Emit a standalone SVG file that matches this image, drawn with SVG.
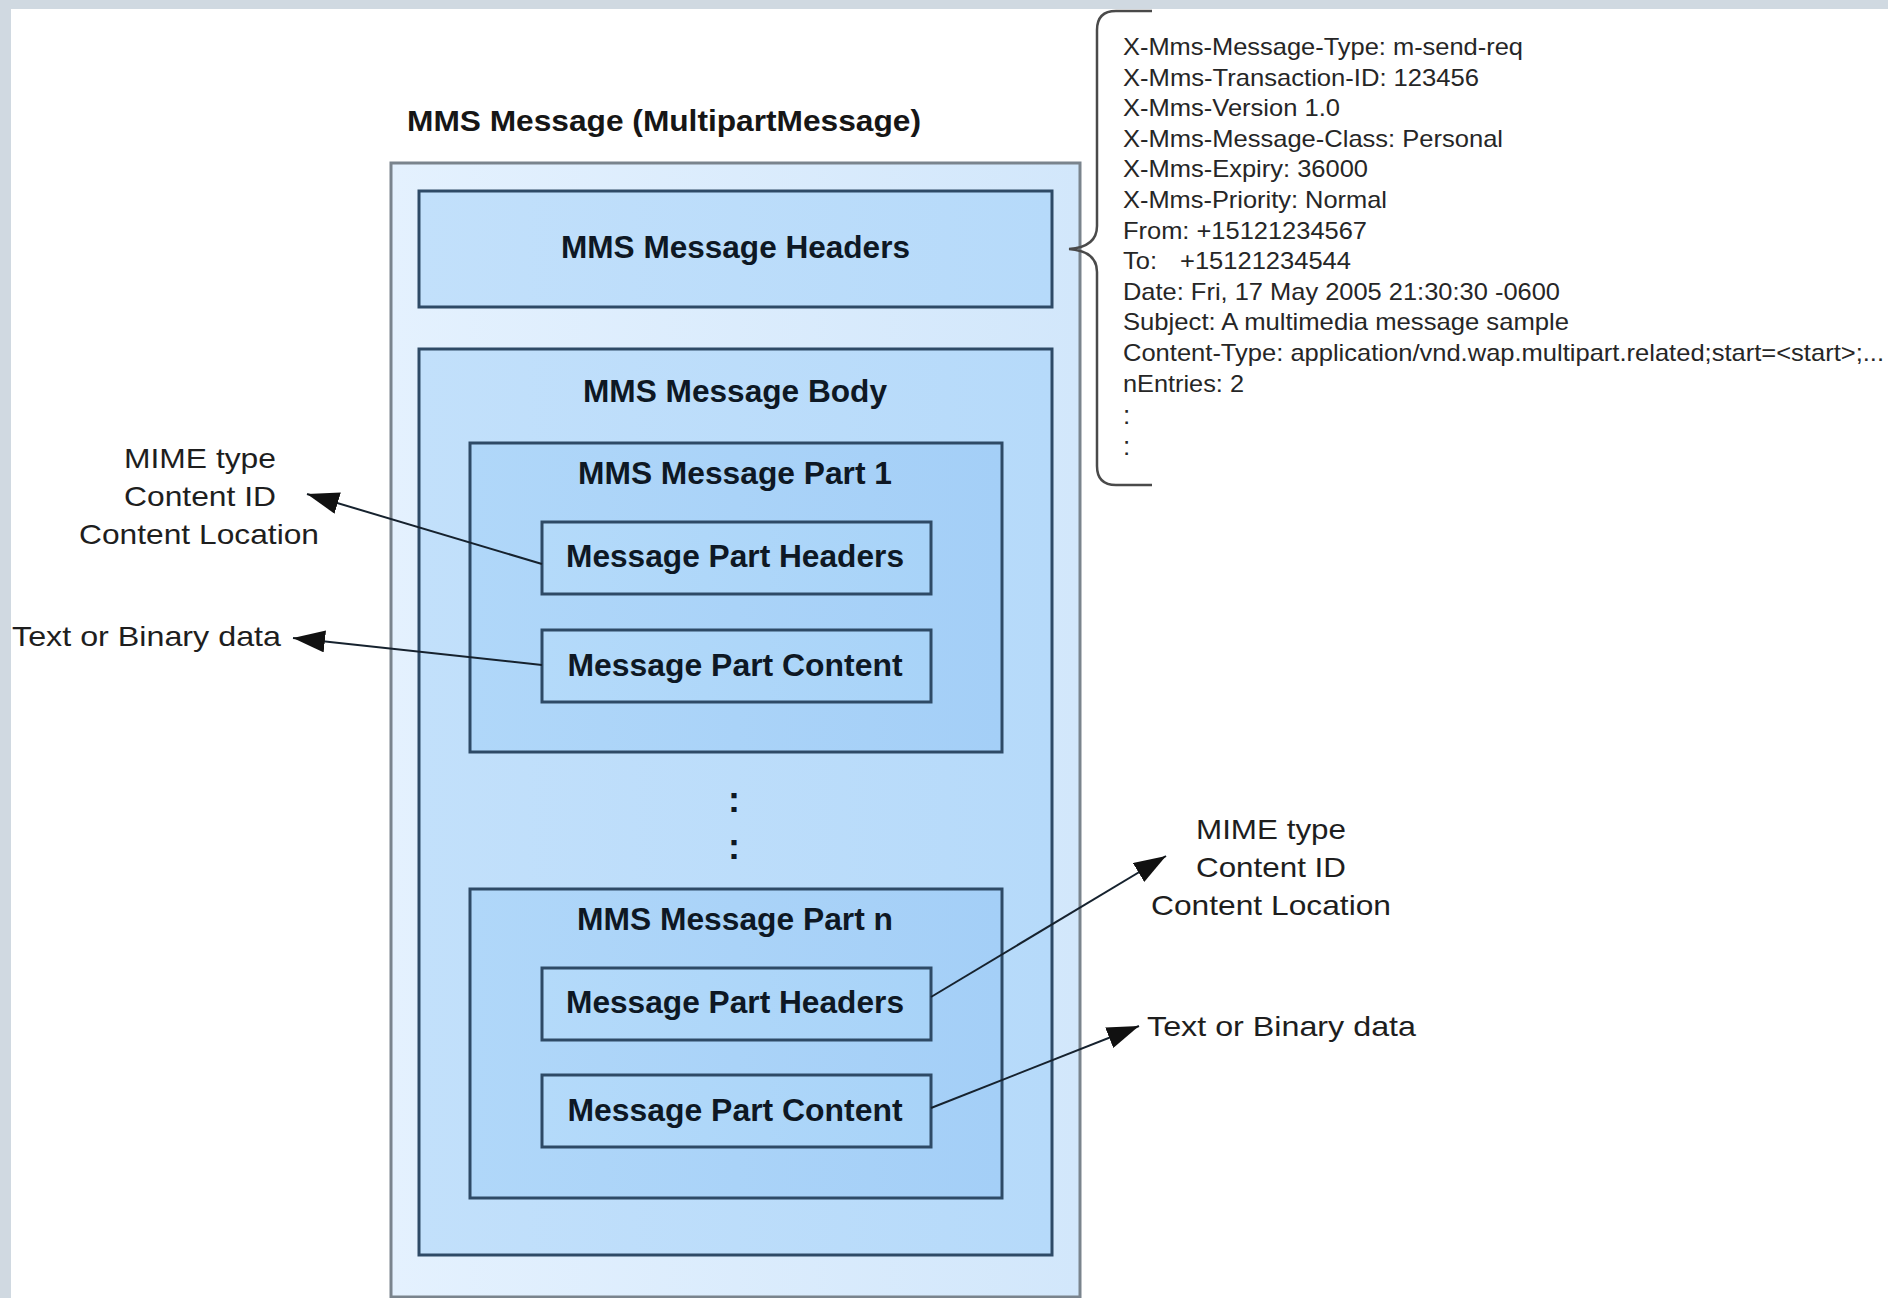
<svg xmlns="http://www.w3.org/2000/svg" width="1888" height="1298" viewBox="0 0 1888 1298">
  <defs>
    <linearGradient id="gOuter" x1="0" y1="0" x2="1" y2="0">
      <stop offset="0" stop-color="#E4F1FE"/>
      <stop offset="1" stop-color="#D2E7FB"/>
    </linearGradient>
    <linearGradient id="gMid" x1="0" y1="0" x2="1" y2="0">
      <stop offset="0" stop-color="#C2E0FB"/>
      <stop offset="1" stop-color="#B6DAFA"/>
    </linearGradient>
    <linearGradient id="gPart" x1="0" y1="0" x2="1" y2="0">
      <stop offset="0" stop-color="#B0D7F9"/>
      <stop offset="1" stop-color="#A4CFF7"/>
    </linearGradient>
    <linearGradient id="gLeaf" x1="0" y1="0" x2="1" y2="0">
      <stop offset="0" stop-color="#B4DAFA"/>
      <stop offset="1" stop-color="#A8D3F8"/>
    </linearGradient>
    <marker id="arrow" markerUnits="userSpaceOnUse" markerWidth="32" markerHeight="22" refX="32" refY="11" orient="auto">
      <path d="M0,0 L32,11 L0,22 z" fill="#111"/>
    </marker>
  </defs>
  <style>
    .box { stroke: #2E4A66; stroke-width: 3; }
    .outer { fill: url(#gOuter); stroke: #7A848D; stroke-width: 3; }
    .mid { fill: url(#gMid); }
    .part { fill: url(#gPart); }
    .leaf { fill: url(#gLeaf); }
    .bold { font-family: "Liberation Sans", Arial, sans-serif; font-weight: bold; font-size: 31px; fill: #0E1824; text-anchor: middle; }
    .title { font-family: "Liberation Sans", Arial, sans-serif; font-weight: bold; font-size: 29px; fill: #161616; }
    .label { font-family: "Liberation Sans", Arial, sans-serif; font-size: 28px; fill: #1E1E1E; }
    .hdr { font-family: "Liberation Sans", Arial, sans-serif; font-size: 24px; fill: #262626; }
    .conn { fill: none; stroke: #16222E; stroke-width: 2; marker-end: url(#arrow); }
    .brace { fill: none; stroke: #4A4A4A; stroke-width: 2.5; }
  </style>

  <!-- page background with frame strips -->
  <rect x="0" y="0" width="1888" height="1298" fill="#D0D9E1"/>
  <rect x="11" y="9" width="1877" height="1289" fill="#FFFFFF"/>

  <!-- container -->
  <g id="mms-message">
    <text class="title" x="407" y="131" textLength="514" lengthAdjust="spacingAndGlyphs">MMS Message (MultipartMessage)</text>
    <rect class="outer" x="391" y="163" width="689" height="1134"/>
  </g>

  <g id="mms-headers">
    <rect class="box mid" x="419" y="191" width="633" height="116"/>
    <text class="bold" x="735.5" y="258" textLength="349" lengthAdjust="spacingAndGlyphs">MMS Message Headers</text>
  </g>

  <g id="mms-body">
    <rect class="box mid" x="419" y="349" width="633" height="906"/>
    <text class="bold" x="735" y="402" textLength="304" lengthAdjust="spacingAndGlyphs">MMS Message Body</text>
  </g>

  <g id="part-1">
    <rect class="box part" x="470" y="443" width="532" height="309"/>
    <text class="bold" x="735" y="484" textLength="314" lengthAdjust="spacingAndGlyphs">MMS Message Part 1</text>
  </g>
  <g id="part-1-headers">
    <rect class="box leaf" x="542" y="522" width="389" height="72"/>
    <text class="bold" x="735" y="567" textLength="338" lengthAdjust="spacingAndGlyphs">Message Part Headers</text>
  </g>
  <g id="part-1-content">
    <rect class="box leaf" x="542" y="630" width="389" height="72"/>
    <text class="bold" x="735" y="676" textLength="335" lengthAdjust="spacingAndGlyphs">Message Part Content</text>
  </g>

  <g id="ellipsis">
    <text class="bold" x="734" y="812" style="font-size:36px">:</text>
    <text class="bold" x="734" y="859" style="font-size:36px">:</text>
  </g>

  <g id="part-n">
    <rect class="box part" x="470" y="889" width="532" height="309"/>
    <text class="bold" x="735" y="930" textLength="316" lengthAdjust="spacingAndGlyphs">MMS Message Part n</text>
  </g>
  <g id="part-n-headers">
    <rect class="box leaf" x="542" y="968" width="389" height="72"/>
    <text class="bold" x="735" y="1013" textLength="338" lengthAdjust="spacingAndGlyphs">Message Part Headers</text>
  </g>
  <g id="part-n-content">
    <rect class="box leaf" x="542" y="1075" width="389" height="72"/>
    <text class="bold" x="735" y="1121" textLength="335" lengthAdjust="spacingAndGlyphs">Message Part Content</text>
  </g>

  <!-- annotation labels -->
  <g id="label-part1-headers">
    <text class="label" x="200" y="468" text-anchor="middle" textLength="152" lengthAdjust="spacingAndGlyphs">MIME type</text>
    <text class="label" x="200" y="506" text-anchor="middle" textLength="152" lengthAdjust="spacingAndGlyphs">Content ID</text>
    <text class="label" x="199" y="544" text-anchor="middle" textLength="240" lengthAdjust="spacingAndGlyphs">Content Location</text>
  </g>
  <g id="label-part1-content">
    <text class="label" x="12" y="646" textLength="269" lengthAdjust="spacingAndGlyphs">Text or Binary data</text>
  </g>
  <g id="label-partn-headers">
    <text class="label" x="1271" y="839" text-anchor="middle" textLength="150" lengthAdjust="spacingAndGlyphs">MIME type</text>
    <text class="label" x="1271" y="877" text-anchor="middle" textLength="150" lengthAdjust="spacingAndGlyphs">Content ID</text>
    <text class="label" x="1271" y="915" text-anchor="middle" textLength="240" lengthAdjust="spacingAndGlyphs">Content Location</text>
  </g>
  <g id="label-partn-content">
    <text class="label" x="1147" y="1036" textLength="269" lengthAdjust="spacingAndGlyphs">Text or Binary data</text>
  </g>

  <!-- header field listing with brace -->
  <g id="header-fields">
    <path class="brace" d="M1152,11 L1116,11 Q1097,11 1097,30 L1097,226 Q1097,247 1069,249 Q1097,251 1097,272 L1097,466 Q1097,485 1116,485 L1152,485"/>
    <text class="hdr" x="1123" y="55" textLength="400" lengthAdjust="spacingAndGlyphs">X-Mms-Message-Type: m-send-req</text>
    <text class="hdr" x="1123" y="86" textLength="356" lengthAdjust="spacingAndGlyphs">X-Mms-Transaction-ID: 123456</text>
    <text class="hdr" x="1123" y="116" textLength="217" lengthAdjust="spacingAndGlyphs">X-Mms-Version 1.0</text>
    <text class="hdr" x="1123" y="147" textLength="380" lengthAdjust="spacingAndGlyphs">X-Mms-Message-Class: Personal</text>
    <text class="hdr" x="1123" y="177" textLength="245" lengthAdjust="spacingAndGlyphs">X-Mms-Expiry: 36000</text>
    <text class="hdr" x="1123" y="208" textLength="264" lengthAdjust="spacingAndGlyphs">X-Mms-Priority: Normal</text>
    <text class="hdr" x="1123" y="239" textLength="244" lengthAdjust="spacingAndGlyphs">From: +15121234567</text>
    <text class="hdr" x="1123" y="269"><tspan x="1123" textLength="34" lengthAdjust="spacingAndGlyphs">To:</tspan><tspan x="1180" textLength="171" lengthAdjust="spacingAndGlyphs">+15121234544</tspan></text>
    <text class="hdr" x="1123" y="300" textLength="437" lengthAdjust="spacingAndGlyphs">Date: Fri, 17 May 2005 21:30:30 -0600</text>
    <text class="hdr" x="1123" y="330" textLength="446" lengthAdjust="spacingAndGlyphs">Subject: A multimedia message sample</text>
    <text class="hdr" x="1123" y="361" textLength="761" lengthAdjust="spacingAndGlyphs">Content-Type: application/vnd.wap.multipart.related;start=&lt;start&gt;;...</text>
    <text class="hdr" x="1123" y="392" textLength="121" lengthAdjust="spacingAndGlyphs">nEntries: 2</text>
    <text class="hdr" x="1123" y="424" style="font-size:26px">:</text>
    <text class="hdr" x="1123" y="455" style="font-size:26px">:</text>
  </g>

  <!-- connectors -->
  <g id="connectors">
    <line class="conn" x1="542" y1="564" x2="307" y2="494"/>
    <line class="conn" x1="542" y1="665" x2="293" y2="638"/>
    <line class="conn" x1="931" y1="997" x2="1166" y2="856"/>
    <line class="conn" x1="931" y1="1108" x2="1139" y2="1026"/>
  </g>
</svg>
